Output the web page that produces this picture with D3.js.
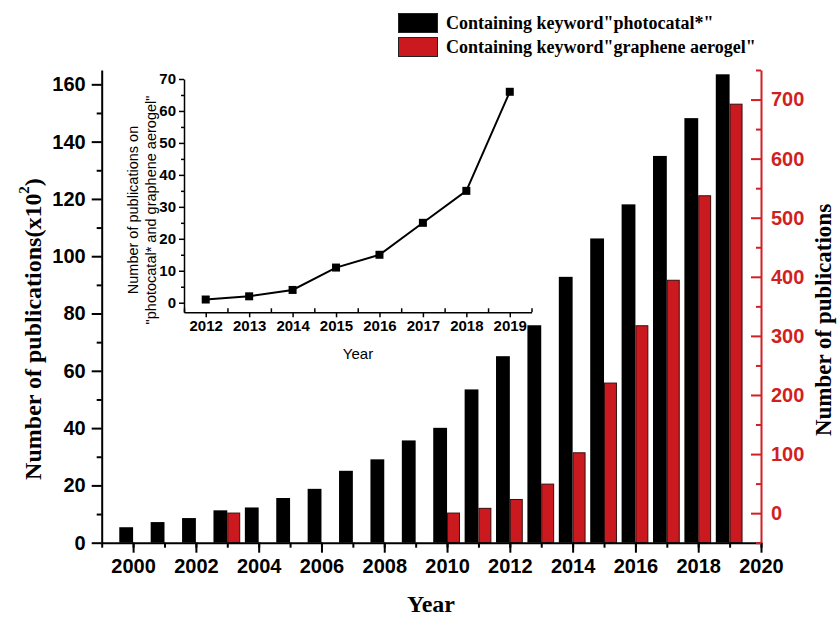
<!DOCTYPE html>
<html>
<head>
<meta charset="utf-8">
<script src="https://cdnjs.cloudflare.com/ajax/libs/d3/7.8.5/d3.min.js"></script>
<style>
    html, body { margin: 0; padding: 0; background: #fff; }
    svg { display: block; }
    .serif { font-family: "Liberation Serif", "Times New Roman", serif; font-weight: bold; }
    .sans { font-family: "Liberation Sans", Arial, sans-serif; }
</style>
</head>
<body>
<div id="chart"></div>
<script>
// --- Data ---
const years = d3.range(2000, 2020);
// black bars, left axis, units of x10^2
const photocatal = [5.4, 7.2, 8.6, 11.3, 12.3, 15.6, 18.8, 25.1, 29.1, 35.7,
                    40.1, 53.5, 65.1, 75.9, 92.8, 106.2, 118.1, 135.0, 148.2, 163.5];
// red bars, right axis
const aerogelYears = [2003, 2010, 2011, 2012, 2013, 2014, 2015, 2016, 2017, 2018, 2019];
const aerogel = [1, 1, 9, 24, 50, 103, 221, 318, 395, 538, 693];
// inset line
const insetYears = [2012, 2013, 2014, 2015, 2016, 2017, 2018, 2019];
const insetCounts = [1, 2, 4, 11, 15, 25, 35, 66];

const xTicks = d3.range(2000, 2021, 2);
const leftTicks = d3.range(0, 161, 20);
const rightTicks = d3.range(0, 701, 100);
const insetXTicks = insetYears;
const insetYTicks = d3.range(0, 71, 10);

const legendLabels = ['Containing keyword"photocatal*"', 'Containing keyword"graphene aerogel"'];

const BLACK = '#000';
const RED = '#cb1a1f';
const RED_AXIS = '#d11f23';

const width = 838, height = 617;

const svg = d3.select('#chart').append('svg')
    .attr('width', width).attr('height', height);

// --- Main scales ---
const x = d3.scaleLinear().domain([1999, 2020]).range([101.7, 761]);
const yL = d3.scaleLinear().domain([0, 165]).range([542.7, 70]);
const yR = d3.scaleLinear().domain([-50, 750]).range([542.7, 70]);

// bars
svg.append('g').selectAll('rect')
    .data(years.map((yr, i) => ({ yr, v: photocatal[i] })))
    .join('rect')
    .attr('x', d => x(d.yr - 0.44))
    .attr('width', d => x(d.yr) - x(d.yr - 0.44))
    .attr('y', d => yL(d.v))
    .attr('height', d => yL(0) - yL(d.v))
    .attr('fill', BLACK);

svg.append('g').selectAll('rect')
    .data(aerogelYears.map((yr, i) => ({ yr, v: aerogel[i] })))
    .join('rect')
    .attr('x', d => x(d.yr) + 0.5)
    .attr('width', d => x(d.yr + 0.38) - x(d.yr))
    .attr('y', d => yR(d.v) + 0.5)
    .attr('height', d => yR(-50) - yR(d.v) - 0.5)
    .attr('fill', RED)
    .attr('stroke', '#3a0d0d')
    .attr('stroke-width', 1);

// helper: style an axis group
function styleAxis(g, color, lw) {
    g.selectAll('.domain').attr('stroke', color).attr('stroke-width', lw);
    g.selectAll('.tick line').attr('stroke', color).attr('stroke-width', lw);
}

// bottom axis
const gx = svg.append('g').attr('transform', `translate(0,${yL(0)})`);
gx.call(d3.axisBottom(x).tickValues(d3.range(1999, 2021)).tickFormat('').tickSize(5).tickSizeOuter(0));
gx.append('g').call(d3.axisBottom(x).tickValues(xTicks).tickFormat(d3.format('d')).tickSize(10).tickPadding(6))
    .call(g => g.select('.domain').remove());
styleAxis(gx, BLACK, 2);
gx.selectAll('text').attr('class', 'sans').attr('font-weight', 'bold')
    .attr('font-size', 20).attr('fill', BLACK);

// left axis
const gl = svg.append('g').attr('transform', `translate(${x(1999)},0)`);
gl.call(d3.axisLeft(yL).tickValues(d3.range(10, 165, 20)).tickFormat('').tickSize(5).tickSizeOuter(0));
gl.append('g').call(d3.axisLeft(yL).tickValues(leftTicks).tickSize(10).tickPadding(6))
    .call(g => g.select('.domain').remove());
styleAxis(gl, BLACK, 2);
gl.selectAll('text').attr('class', 'sans').attr('font-weight', 'bold')
    .attr('font-size', 20).attr('fill', BLACK);

// right axis (red, ticks point inward)
const gr = svg.append('g').attr('transform', `translate(${x(2020)},0)`);
gr.call(d3.axisRight(yR).tickValues(d3.range(-50, 751, 100)).tickFormat('').tickSizeInner(-5).tickSizeOuter(0));
gr.append('g').call(d3.axisRight(yR).tickValues(rightTicks).tickSizeInner(-10).tickSizeOuter(0).tickPadding(10))
    .call(g => g.select('.domain').remove());
styleAxis(gr, RED_AXIS, 2);
gr.selectAll('text').attr('class', 'sans').attr('font-weight', 'bold')
    .attr('font-size', 20).attr('fill', RED_AXIS);

// axis titles
const leftTitle = svg.append('text').attr('class', 'serif')
    .attr('transform', 'translate(33,329) rotate(-90)')
    .attr('text-anchor', 'middle').attr('dominant-baseline', 'central')
    .attr('font-size', 24).attr('fill', BLACK);
leftTitle.append('tspan').text('Number of publications(x10');
leftTitle.append('tspan').attr('font-size', 15).attr('dy', -9).text('2');
leftTitle.append('tspan').attr('dy', 9).text(')');

svg.append('text').attr('class', 'serif')
    .attr('transform', 'translate(823,320) rotate(-90)')
    .attr('text-anchor', 'middle').attr('dominant-baseline', 'central')
    .attr('font-size', 23).attr('fill', BLACK)
    .text('Number of publications');

svg.append('text').attr('class', 'serif')
    .attr('x', 431).attr('y', 612)
    .attr('text-anchor', 'middle')
    .attr('font-size', 24).attr('fill', BLACK)
    .text('Year');

// legend
const legend = svg.append('g').attr('transform', 'translate(398,13)');
legendLabels.forEach((label, i) => {
    const row = legend.append('g').attr('transform', `translate(0,${i * 24})`);
    row.append('rect').attr('x', 0.5).attr('y', 0.5).attr('width', 39).attr('height', 19)
        .attr('fill', i === 0 ? BLACK : RED).attr('stroke', '#222').attr('stroke-width', 1);
    row.append('text').attr('class', 'serif')
        .attr('x', 48).attr('y', 10).attr('dominant-baseline', 'central')
        .attr('font-size', 18).attr('fill', BLACK)
        .text(label);
});

// --- Inset ---
const xi = d3.scaleLinear().domain([2011.5, 2019.5]).range([184, 531.5]);
const yi = d3.scaleLinear().domain([-3, 70]).range([312.3, 79]);

const inset = svg.append('g');

const gix = inset.append('g').attr('transform', `translate(0,${yi(-3)})`);
gix.call(d3.axisBottom(xi).tickValues(d3.range(2011.5, 2019.6, 1)).tickFormat('').tickSizeInner(-4).tickSizeOuter(0));
gix.append('g').call(d3.axisBottom(xi).tickValues(insetXTicks).tickFormat(d3.format('d')).tickSize(5).tickPadding(3))
    .call(g => g.select('.domain').remove());
styleAxis(gix, BLACK, 1.5);
gix.selectAll('text').attr('class', 'sans').attr('font-weight', 'bold')
    .attr('font-size', 15).attr('fill', BLACK);

const giy = inset.append('g').attr('transform', `translate(${xi(2011.5)},0)`);
giy.call(d3.axisLeft(yi).tickValues(d3.range(5, 70, 10)).tickFormat('').tickSize(3).tickSizeOuter(0));
giy.append('g').call(d3.axisLeft(yi).tickValues(insetYTicks).tickSize(5).tickPadding(3))
    .call(g => g.select('.domain').remove());
styleAxis(giy, BLACK, 1.5);
giy.selectAll('text').attr('class', 'sans').attr('font-weight', 'bold')
    .attr('font-size', 15).attr('fill', BLACK);

const pts = insetYears.map((yr, i) => ({ yr, v: insetCounts[i] }));
inset.append('path').datum(pts)
    .attr('fill', 'none').attr('stroke', BLACK).attr('stroke-width', 2)
    .attr('d', d3.line().x(d => xi(d.yr)).y(d => yi(d.v)));
inset.append('g').selectAll('rect').data(pts).join('rect')
    .attr('x', d => xi(d.yr) - 4).attr('y', d => yi(d.v) - 4)
    .attr('width', 8).attr('height', 8).attr('fill', BLACK);

const insetTitle = inset.append('text').attr('class', 'sans')
    .attr('transform', 'translate(142,210) rotate(-90)')
    .attr('text-anchor', 'middle').attr('font-size', 14.5).attr('fill', BLACK);
insetTitle.append('tspan').attr('x', 0).attr('dy', '-0.25em').text('Number of publications on');
insetTitle.append('tspan').attr('x', 0).attr('dy', '1.2em').text('"photocatal* and graphene aerogel"');

inset.append('text').attr('class', 'sans')
    .attr('x', 358).attr('y', 359).attr('text-anchor', 'middle')
    .attr('font-size', 15).attr('fill', BLACK)
    .text('Year');
</script>
</body>
</html>
